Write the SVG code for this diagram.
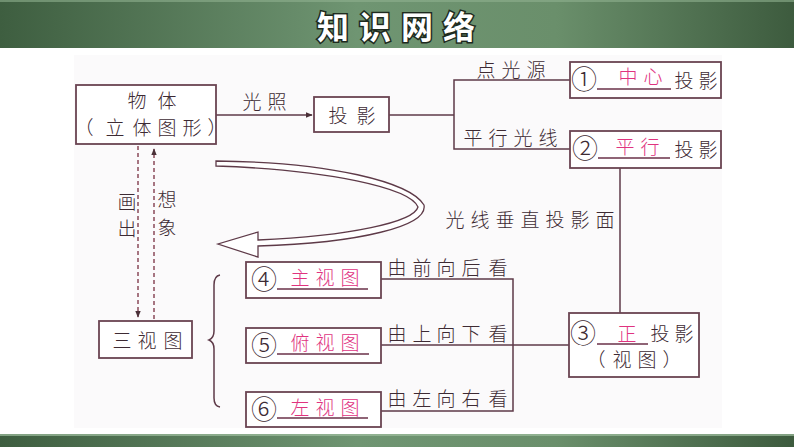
<svg xmlns="http://www.w3.org/2000/svg" width="794" height="447" viewBox="0 0 794 447">
<defs>
<linearGradient id="gband" x1="0" y1="0" x2="1" y2="0">
<stop offset="0" stop-color="#3e5e40"/>
<stop offset="0.45" stop-color="#6f9572"/>
<stop offset="0.7" stop-color="#6a8f6b"/>
<stop offset="1" stop-color="#3d5b3e"/>
</linearGradient>
<marker id="ah" viewBox="0 0 10 10" refX="9" refY="5" markerWidth="7" markerHeight="7" orient="auto" markerUnits="userSpaceOnUse">
<path d="M0,1 L10,5 L0,9 Z" fill="#4a3038"/>
</marker>
<style>
.t{font-family:"Noto Sans CJK SC","Noto Sans CJK JP",sans-serif;font-size:19px;fill:#3d2a33;font-weight:300}
.n{font-family:"Noto Sans CJK SC","Noto Sans CJK JP",sans-serif;font-size:26px;fill:#3d2a33;font-weight:300}
.p{font-family:"Noto Sans CJK SC","Noto Sans CJK JP",sans-serif;font-size:19px;fill:#e0337f;font-weight:300}
.box{fill:#ffffff;stroke:#6a4452;stroke-width:1.8}
.ln{fill:none;stroke:#5e3a48;stroke-width:1.5}
.ul{fill:none;stroke:#6a3048;stroke-width:1.6}
.dash{fill:none;stroke:#8a4a5a;stroke-width:1.5;stroke-dasharray:4 3}
</style>
</defs>
<rect x="0" y="0" width="794" height="447" fill="#ffffff"/>
<rect x="74" y="55" width="648" height="373" fill="#fbfafb"/>
<g id="header">
<rect x="0" y="0" width="794" height="48" fill="url(#gband)"/>
<rect x="0" y="0" width="794" height="2" fill="#8fb08f" opacity="0.6"/>
<text x="401" y="39" text-anchor="middle" font-family="'Noto Sans CJK SC',sans-serif" font-size="32" font-weight="bold" fill="#ffffff" stroke="#1e2a1e" stroke-width="3" paint-order="stroke" letter-spacing="10">知识网络</text>
</g>
<g id="footer">
<rect x="0" y="434" width="794" height="13" fill="url(#gband)"/>
<rect x="0" y="434" width="794" height="2" fill="#9fbf9f" opacity="0.7"/>
</g>
<g id="connectors">
<line class="ln" x1="216" y1="115" x2="312" y2="115" marker-end="url(#ah)"/>
<polyline class="ln" points="389,115 454,115"/>
<polyline class="ln" points="570,80 454,80 454,149 570,149"/>
<line class="ln" x1="620" y1="168" x2="620" y2="313"/>
<polyline class="ln" points="381,279 513,279 513,411 381,411"/>
<line class="ln" x1="381" y1="345" x2="569" y2="345"/>
<line class="dash" x1="138" y1="146" x2="138" y2="317" marker-end="url(#ah)"/>
<line class="dash" x1="154" y1="319" x2="154" y2="149" marker-end="url(#ah)"/>
<path class="ln" d="M220,275 Q214,276 214,285 L214,331 Q214,338 209,340 Q214,342 214,349 L214,398 Q214,406 220,407"/>
<path d="M216,161 C330,162 410,182 424,205 C428,226 360,243 258,246 L258,257 L218,244 L258,232 L258,240 C350,236 414,222 418,207 C410,188 330,170 216,166 Z" fill="#ffffff" stroke="#5e3a48" stroke-width="1.3" stroke-linejoin="miter"/>
</g>
<g id="labels">
<text class="t" x="252 277" y="109" text-anchor="middle">光照</text>
<text class="t" x="127" y="209" text-anchor="middle">画</text>
<text class="t" x="127" y="236" text-anchor="middle">出</text>
<text class="t" x="167" y="207" text-anchor="middle">想</text>
<text class="t" x="167" y="235" text-anchor="middle">象</text>
<text class="t" x="486 511 536" y="77" text-anchor="middle">点光源</text>
<text class="t" x="473 498 523 548" y="145" text-anchor="middle">平行光线</text>
<text class="t" x="455 480 505 530 555 580 605" y="227" text-anchor="middle">光线垂直投影面</text>
<text class="t" x="397 422 446 471 498" y="275" text-anchor="middle">由前向后看</text>
<text class="t" x="397 422 446 471 498" y="341" text-anchor="middle">由上向下看</text>
<text class="t" x="397 422 446 471 498" y="406" text-anchor="middle">由左向右看</text>
</g>
<g id="node-object">
<rect class="box" x="76" y="85" width="140" height="59"/>
<text class="t" x="137 167" y="108" text-anchor="middle" font-size="20">物体</text>
<text class="t" x="84 115 142 167 192 217" y="135" text-anchor="middle">（立体图形）</text>
</g>
<g id="node-projection">
<rect class="box" x="314" y="97" width="75" height="35"/>
<text class="t" x="338 366" y="123" text-anchor="middle" font-size="20">投影</text>
</g>
<g id="node-central">
<rect class="box" x="570" y="62" width="151" height="36"/>
<text class="n" x="584" y="89" text-anchor="middle">①</text>
<line class="ul" x1="597" y1="89" x2="671" y2="89"/>
<text class="p" x="628 653" y="84" text-anchor="middle">中心</text>
<text class="t" x="684 708" y="88" text-anchor="middle">投影</text>
</g>
<g id="node-parallel">
<rect class="box" x="570" y="131" width="151" height="37"/>
<text class="n" x="585" y="158" text-anchor="middle">②</text>
<line class="ul" x1="598" y1="158" x2="670" y2="158"/>
<text class="p" x="625 650" y="154" text-anchor="middle">平行</text>
<text class="t" x="684 708" y="157" text-anchor="middle">投影</text>
</g>
<g id="node-orthographic">
<rect class="box" x="569" y="313" width="130" height="64"/>
<text class="n" x="583" y="343" text-anchor="middle">③</text>
<line class="ul" x1="597" y1="344" x2="648" y2="344"/>
<text class="p" x="627" y="341" text-anchor="middle">正</text>
<text class="t" x="660 684" y="341" text-anchor="middle">投影</text>
<text class="t" x="596 622 647 672" y="367" text-anchor="middle">（视图）</text>
</g>
<g id="node-three-views">
<rect class="box" x="99" y="321" width="93" height="37"/>
<text class="t" x="122 147 173" y="348" text-anchor="middle">三视图</text>
</g>
<g id="node-front">
<rect class="box" x="246" y="262" width="135" height="36"/>
<text class="n" x="264" y="289" text-anchor="middle">④</text>
<line class="ul" x1="277" y1="289" x2="368" y2="289"/>
<text class="p" x="300 325 350" y="285" text-anchor="middle">主视图</text>
</g>
<g id="node-top">
<rect class="box" x="246" y="328" width="135" height="35"/>
<text class="n" x="264" y="355" text-anchor="middle">⑤</text>
<line class="ul" x1="277" y1="354" x2="369" y2="354"/>
<text class="p" x="300 325 350" y="350" text-anchor="middle">俯视图</text>
</g>
<g id="node-left">
<rect class="box" x="246" y="392" width="135" height="35"/>
<text class="n" x="264" y="419" text-anchor="middle">⑥</text>
<line class="ul" x1="277" y1="418" x2="368" y2="418"/>
<text class="p" x="300 325 350" y="415" text-anchor="middle">左视图</text>
</g>
</svg>
